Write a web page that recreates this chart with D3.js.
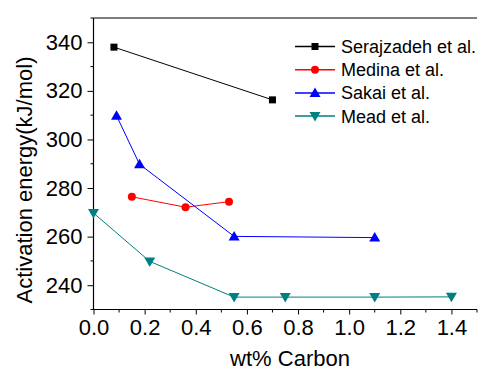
<!DOCTYPE html>
<html>
<head>
<meta charset="utf-8">
<script src="https://cdn.jsdelivr.net/npm/d3@7"></script>
<style>
  body { margin: 0; background: #fff; }
  svg { display: block; font-family: "Liberation Sans", Arial, sans-serif; }
</style>
</head>
<body>
<div id="chart"></div>
<script>
// series data (wt% C, kJ/mol)
const seriesNames = ["Serajzadeh et al.", "Medina et al.", "Sakai et al.", "Mead et al."];
const serajzadehX = [0.08, 0.70];
const serajzadehY = [338, 316.3];
const medinaX = [0.15, 0.36, 0.53];
const medinaY = [276.4, 272.1, 274.4];
const sakaiX = [0.09, 0.18, 0.55, 1.10];
const sakaiY = [309.8, 289.8, 260.1, 259.6];
const meadX = [0.0, 0.22, 0.55, 0.75, 1.10, 1.40];
const meadY = [269.7, 249.8, 235.1, 235.1, 235.1, 235.2];
const xTicks = [0, 0.2, 0.4, 0.6, 0.8, 1.0, 1.2, 1.4];
const yTicks = [240, 260, 280, 300, 320, 340];

const colors = ["#000000", "#ff0000", "#0000ff", "#008080"];
const symbols = ["square", "circle", "triangle", "triangledown"];

const series = [
  {x: serajzadehX, y: serajzadehY},
  {x: medinaX, y: medinaY},
  {x: sakaiX, y: sakaiY},
  {x: meadX, y: meadY}
].map((s, i) => ({
  name: seriesNames[i],
  color: colors[i],
  symbol: symbols[i],
  points: s.x.map((v, j) => [v, s.y[j]])
}));

const width = 480, height = 372;
const svg = d3.select("#chart").append("svg")
  .attr("width", width)
  .attr("height", height);

const x = d3.scaleLinear().domain([0, 1.5]).range([93.5, 477]);
const y = d3.scaleLinear().domain([230, 350]).range([309.5, 18]);

// top frame line
svg.append("line")
  .attr("x1", x(0)).attr("x2", x(1.5))
  .attr("y1", y(350)).attr("y2", y(350))
  .attr("stroke", "#000").attr("stroke-width", 1.2);

// minor ticks
const xMinor = d3.range(0.1, 1.51, 0.2);
const yMinor = d3.range(230, 351, 20);

const gx = svg.append("g").attr("transform", `translate(0,${y(230)})`);
gx.call(d3.axisBottom(x).tickValues(xTicks).tickFormat(d3.format(".1f")).tickSize(5).tickPadding(5));
gx.append("g").selectAll("line").data(xMinor).join("line")
  .attr("x1", d => x(d)).attr("x2", d => x(d))
  .attr("y1", 0).attr("y2", 3).attr("stroke", "#000");

const gy = svg.append("g").attr("transform", `translate(${x(0)},0)`);
gy.call(d3.axisLeft(y).tickValues(yTicks).tickSize(6).tickPadding(5));
gy.append("g").selectAll("line").data(yMinor).join("line")
  .attr("y1", d => y(d)).attr("y2", d => y(d))
  .attr("x1", 0).attr("x2", -3).attr("stroke", "#000");

// axis lines without end caps
svg.selectAll(".domain").attr("stroke-width", 1.2);
gx.select(".domain").attr("d", `M${x(0)},0H${x(1.5)}`);
gy.select(".domain").attr("d", `M0,${y(230)}V${y(350)}`);

svg.selectAll(".tick text")
  .attr("font-size", 22)
  .attr("font-family", "Liberation Sans, Arial, sans-serif")
  .attr("fill", "#000");

// axis titles
svg.append("text")
  .attr("x", 290).attr("y", 366)
  .attr("text-anchor", "middle")
  .attr("font-size", 22)
  .text("wt% Carbon");

svg.append("text")
  .attr("transform", `translate(32,${180}) rotate(-90)`)
  .attr("text-anchor", "middle")
  .attr("font-size", 22)
  .text("Activation energy(kJ/mol)");

// markers
function marker(sel, sym, color) {
  if (sym === "square") {
    sel.append("rect").attr("x", -3.5).attr("y", -3.5).attr("width", 7).attr("height", 7).attr("fill", color);
  } else if (sym === "circle") {
    sel.append("circle").attr("r", 4).attr("fill", color);
  } else if (sym === "triangle") {
    sel.append("path").attr("d", "M0,-5.5L5.5,4L-5.5,4Z").attr("fill", color);
  } else {
    sel.append("path").attr("d", "M0,5.5L5.5,-4L-5.5,-4Z").attr("fill", color);
  }
}

const line = d3.line().x(d => x(d[0])).y(d => y(d[1]));

series.forEach(s => {
  svg.append("path")
    .attr("d", line(s.points))
    .attr("fill", "none")
    .attr("stroke", s.color)
    .attr("stroke-width", 1);
  s.points.forEach(p => {
    const g = svg.append("g").attr("transform", `translate(${x(p[0])},${y(p[1])})`);
    marker(g, s.symbol, s.color);
  });
});

// legend
const legend = svg.append("g");
series.forEach((s, i) => {
  const ly = 46.5 + i * 23.2;
  legend.append("line")
    .attr("x1", 295).attr("x2", 335)
    .attr("y1", ly).attr("y2", ly)
    .attr("stroke", s.color).attr("stroke-width", 1.5);
  const g = legend.append("g").attr("transform", `translate(315,${ly})`);
  marker(g, s.symbol, s.color);
  legend.append("text")
    .attr("x", 341).attr("y", ly + 6.5)
    .attr("font-size", 18)
    .text(s.name);
});
</script>
</body>
</html>
